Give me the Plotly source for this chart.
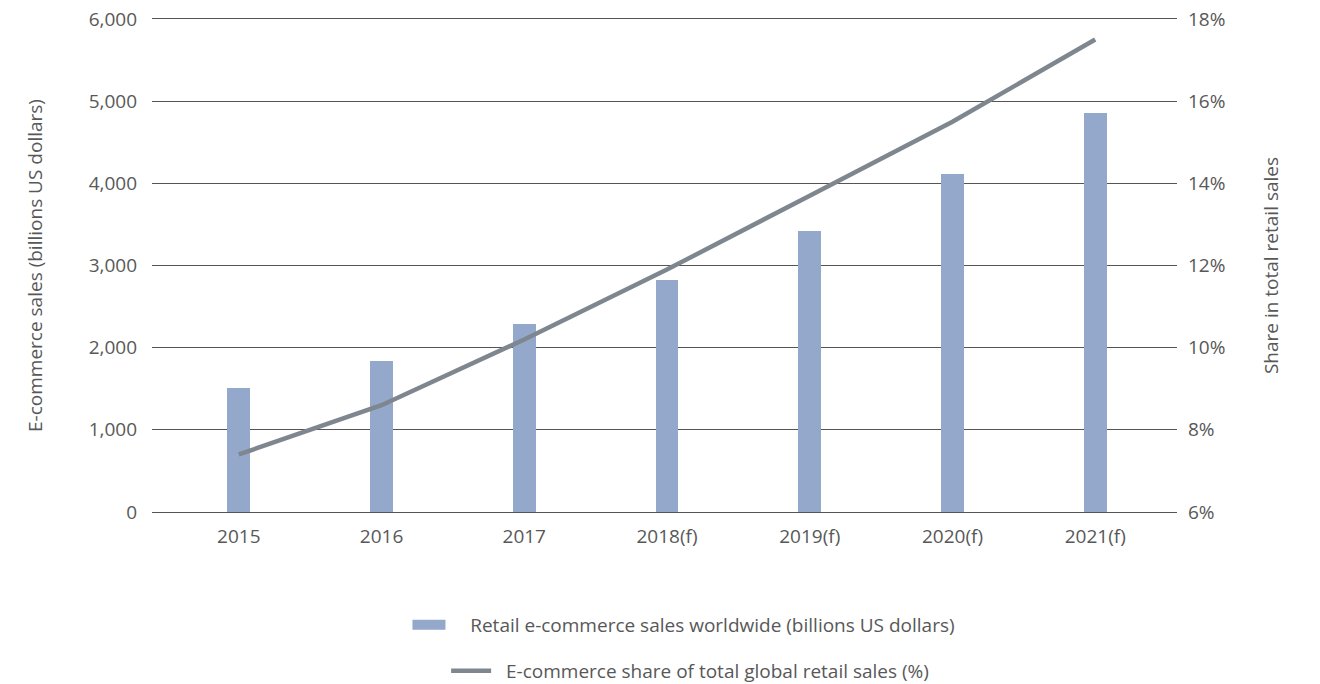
import plotly.graph_objects as go

# Worldwide retail e-commerce, actuals and forecasts
years = ["2015", "2016", "2017", "2018(f)", "2019(f)", "2020(f)", "2021(f)"]
sales_bn_usd = [1510, 1840, 2290, 2820, 3420, 4110, 4860]
share_pct = [7.4, 8.6, 10.2, 11.9, 13.7, 15.5, 17.5]

left_ticks = [0, 1000, 2000, 3000, 4000, 5000, 6000]
left_tick_text = ["0", "1,000", "2,000", "3,000", "4,000", "5,000", "6,000"]
right_ticks = [6, 8, 10, 12, 14, 16, 18]
right_tick_text = [f"{v}%" for v in right_ticks]

sales_label = "Retail e-commerce sales worldwide (billions US dollars)"
share_label = "E-commerce share of total global retail sales (%)"

FONT = "Open Sans"
TEXT = "#585858"
GRID = "#555555"
BAR = "#94a8cb"
LINE = "#7e878f"
SIZE = 19
NBSP = "\u00a0"

fig = go.Figure()

fig.add_trace(go.Bar(
    x=years, y=sales_bn_usd,
    name=sales_label,
    marker=dict(color=BAR, line=dict(width=0)),
    width=0.16,
    showlegend=False,
))

# legend swatch for the bars: a wide flat block
fig.add_trace(go.Scatter(
    x=[None], y=[None], mode="lines",
    name=NBSP * 4 + sales_label,
    line=dict(color=BAR, width=12),
    legend="legend",
))

fig.add_trace(go.Scatter(
    x=years, y=share_pct, yaxis="y2",
    mode="lines",
    name=NBSP * 2 + share_label,
    line=dict(color=LINE, width=4.5),
    legend="legend2",
))

fig.update_layout(
    width=1320, height=684,
    margin=dict(l=152, r=143, t=19, b=172, autoexpand=False),
    paper_bgcolor="white", plot_bgcolor="white",
    font=dict(family=FONT, size=SIZE, color=TEXT),
    bargap=0,
    xaxis=dict(
        type="category",
        range=[-0.608, 6.573],
        showgrid=False, zeroline=False,
        showline=True, linecolor=GRID, linewidth=1, mirror=True,
        ticks="", ticklabelstandoff=7,
        tickfont=dict(size=SIZE, color=TEXT),
    ),
    yaxis=dict(
        range=[0, 6000],
        tickvals=left_ticks, ticktext=left_tick_text,
        showgrid=True, gridcolor=GRID, gridwidth=1,
        zeroline=False, showline=False,
        ticks="", ticklabelstandoff=14,
        tickfont=dict(size=SIZE, color=TEXT),
        title=dict(text="E-commerce sales (billions US dollars)",
                   font=dict(size=SIZE, color=TEXT), standoff=40),
    ),
    yaxis2=dict(
        overlaying="y", side="right",
        range=[6, 18],
        tickvals=right_ticks, ticktext=right_tick_text,
        showgrid=False, zeroline=False, showline=False,
        ticks="", ticklabelstandoff=10,
        tickfont=dict(size=SIZE, color=TEXT),
        title=dict(text="Share in total retail sales",
                   font=dict(size=SIZE, color=TEXT), standoff=40),
    ),
    legend=dict(
        x=0.519, y=-0.229, xanchor="center", yanchor="middle",
        itemwidth=33,
        font=dict(size=SIZE, color=TEXT), bgcolor="rgba(0,0,0,0)",
    ),
    legend2=dict(
        x=0.525, y=-0.3225, xanchor="center", yanchor="middle",
        itemwidth=40,
        font=dict(size=SIZE, color=TEXT), bgcolor="rgba(0,0,0,0)",
    ),
    showlegend=True,
)

fig.write_html("out.html")
